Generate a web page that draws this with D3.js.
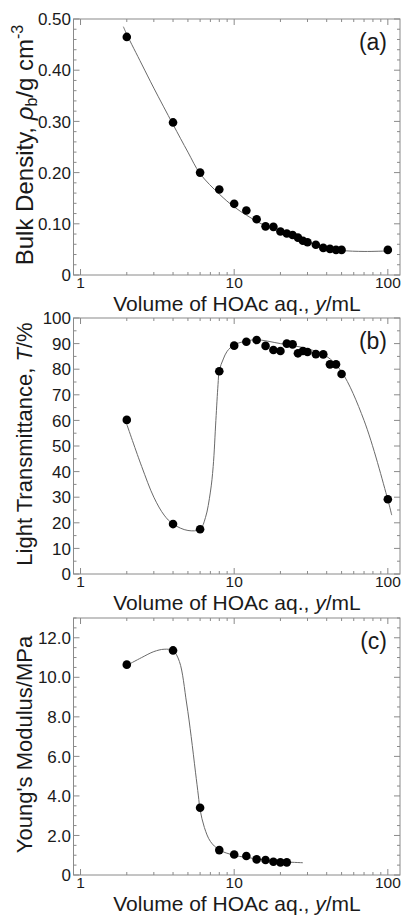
<!DOCTYPE html>
<html><head><meta charset="utf-8">
<script src="https://cdn.jsdelivr.net/npm/d3@7"></script>
<style>
body{margin:0;background:#fff}
svg{display:block}
text{font-family:"Liberation Sans",Arial,Helvetica,sans-serif;fill:#1a1a1a}
</style>
</head><body>
<svg id="chart" width="407" height="916"></svg>
<script>
// ---- data ----
const xMajorTicks = [1, 10, 100];
const xTickLabels = ["1", "10", "100"];

const densityX = [2,4,6,8,10,12,14,16,18,20,22,24,26,28,30,34,38,42,46,50,100];
const densityY = [0.465,0.298,0.200,0.167,0.139,0.126,0.109,0.095,0.094,0.085,0.081,0.078,0.073,0.067,0.064,0.059,0.053,0.051,0.049,0.049,0.049];
const densityFitX = [1.9,2,2.5,3,4,5,6,8,10,12,15,20,30,40,50,70,100];
const densityFitY = [0.485,0.470,0.412,0.365,0.294,0.240,0.198,0.158,0.133,0.117,0.100,0.083,0.064,0.053,0.048,0.046,0.047];

const transX = [2,4,6,8,10,12,14,16,18,20,22,24,26,28,30,34,38,42,46,50,100];
const transY = [60.2,19.5,17.5,79.2,89.2,90.7,91.4,89.1,87.5,87.1,90.0,89.7,86.2,87.1,86.7,85.9,85.8,81.9,81.9,78.1,29.2];
const transFitX = [2,2.5,3,3.5,4,5,6,6.5,7,7.3,7.6,7.85,8,8.5,9,10,12,14,20,30,40,50,70,100,106];
const transFitY = [58.5,42,30,23,19.5,17,17.5,22,32,42,60,74,79.5,84,87,89.5,91,91.5,90,88,85,79,60,29,23];

const modX = [2,4,6,8,10,12,14,16,18,20,22];
const modY = [10.64,11.36,3.40,1.26,1.04,0.96,0.79,0.76,0.67,0.64,0.64];
const modFitX = [2,2.5,3,3.5,4,4.4,4.9,5.25,5.6,5.85,6,6.4,7,8,10,14,20,28];
const modFitY = [10.6,11.0,11.3,11.42,11.35,10.8,8.7,7.0,5.2,4.0,3.3,2.4,1.7,1.27,1.0,0.82,0.68,0.62];

const densityTicks = [0,0.1,0.2,0.3,0.4,0.5];
const densityTickLabels = ["0","0.10","0.20","0.30","0.40","0.50"];
const transTicks = [0,10,20,30,40,50,60,70,80,90,100];
const transTickLabels = ["0","10","20","30","40","50","60","70","80","90","100"];
const modTicks = [0,2,4,6,8,10,12];
const modTickLabels = ["0","2.0","4.0","6.0","8.0","10.0","12.0"];

// ---- layout ----
const svg = d3.select("#chart");
const L = 73.5, R = 400;
const x = d3.scaleLog().domain([0.9, 120]).range([L, R]);
const frameColor = "#8a8a8a";

const panels = [
  {top:19, bottom:275, domain:[0,0.5], ticks:densityTicks, labels:densityTickLabels, minorStep:0.02,
   px:densityX, py:densityY, fx:densityFitX, fy:densityFitY, tag:"(a)", title:"density"},
  {top:318, bottom:574, domain:[0,100], ticks:transTicks, labels:transTickLabels, minorStep:5,
   px:transX, py:transY, fx:transFitX, fy:transFitY, tag:"(b)", title:"trans"},
  {top:618, bottom:875, domain:[0,13], ticks:modTicks, labels:modTickLabels, minorStep:0.5,
   px:modX, py:modY, fx:modFitX, fy:modFitY, tag:"(c)", title:"mod"}
];

const xMinor = [];
for (let d = 1; d <= 100; d *= 10) for (let k = 2; k <= 9; k++) if (k*d < 120) xMinor.push(k*d);

panels.forEach(p => {
  const y = d3.scaleLinear().domain(p.domain).range([p.bottom, p.top]);
  const g = svg.append("g");

  g.append("rect").attr("x", L).attr("y", p.top).attr("width", R-L).attr("height", p.bottom-p.top)
    .attr("fill","none").attr("stroke", frameColor).attr("stroke-width",1);

  const yMinor = d3.range(p.domain[0], p.domain[1] + 1e-9, p.minorStep);
  const tickG = g.append("g").attr("stroke", frameColor).attr("stroke-width",1);
  yMinor.forEach(v => {
    const isMajor = p.ticks.some(t => Math.abs(t - v) < 1e-6);
    const len = isMajor ? 6 : 3;
    tickG.append("line").attr("x1",L).attr("x2",L+len).attr("y1",y(v)).attr("y2",y(v));
    tickG.append("line").attr("x1",R).attr("x2",R-len).attr("y1",y(v)).attr("y2",y(v));
  });
  xMajorTicks.concat(xMinor).forEach(v => {
    const isMajor = xMajorTicks.includes(v);
    const len = isMajor ? 6 : 3;
    tickG.append("line").attr("x1",x(v)).attr("x2",x(v)).attr("y1",p.bottom).attr("y2",p.bottom-len);
    tickG.append("line").attr("x1",x(v)).attr("x2",x(v)).attr("y1",p.top).attr("y2",p.top+len);
  });

  p.ticks.forEach((t,i) => {
    g.append("text").attr("x", 71).attr("y", y(t)).attr("dy","0.36em")
      .attr("text-anchor","end").attr("font-size",17).text(p.labels[i]);
  });
  xMajorTicks.forEach((t,i) => {
    g.append("text").attr("x", x(t)).attr("y", p.bottom+13)
      .attr("text-anchor","middle").attr("font-size",15.5).text(xTickLabels[i]);
  });

  const xt = g.append("text").attr("x", 237).attr("y", p.bottom+35.5)
    .attr("text-anchor","middle").attr("font-size",21);
  xt.append("tspan").text("Volume of HOAc aq., ");
  xt.append("tspan").attr("font-style","italic").text("y");
  xt.append("tspan").text("/mL");

  const cy = (p.top + p.bottom)/2;
  if (p.title === "density") {
    const yt = g.append("text").attr("transform", `translate(33,${cy - 2}) rotate(-90)`)
      .attr("text-anchor","middle").attr("font-size",24);
    yt.append("tspan").text("Bulk Density, ");
    yt.append("tspan").attr("font-style","italic").text("ρ");
    yt.append("tspan").attr("font-size",16).attr("dy",4).text("b");
    yt.append("tspan").attr("dy",-4).text("/g cm");
    yt.append("tspan").attr("font-size",16).attr("dy",-10).text("-3");
  } else if (p.title === "trans") {
    const yt = g.append("text").attr("transform", `translate(32,${cy - 2}) rotate(-90)`)
      .attr("text-anchor","middle").attr("font-size",22);
    yt.append("tspan").text("Light Transmittance,  ");
    yt.append("tspan").attr("font-style","italic").text("T");
    yt.append("tspan").text("/%");
  } else {
    g.append("text").attr("transform", `translate(32,${cy - 2}) rotate(-90)`)
      .attr("text-anchor","middle").attr("font-size",22).text("Young's Modulus/MPa");
  }

  g.append("text").attr("x", 387).attr("y", p.top+31).attr("text-anchor","end")
    .attr("font-size",23).text(p.tag);

  const fit = p.fx.map((v,i) => [v, p.fy[i]]);
  g.append("path").datum(fit)
    .attr("d", d3.line().x(d => x(d[0])).y(d => y(d[1])).curve(d3.curveCatmullRom.alpha(0.5)))
    .attr("fill","none").attr("stroke","#6a6a6a").attr("stroke-width",1);

  g.selectAll("circle.pt").data(p.px.map((v,i)=>[v,p.py[i]])).join("circle")
    .attr("class","pt").attr("cx", d => x(d[0])).attr("cy", d => y(d[1])).attr("r",4.3).attr("fill","#000");
});
</script>
</body></html>
